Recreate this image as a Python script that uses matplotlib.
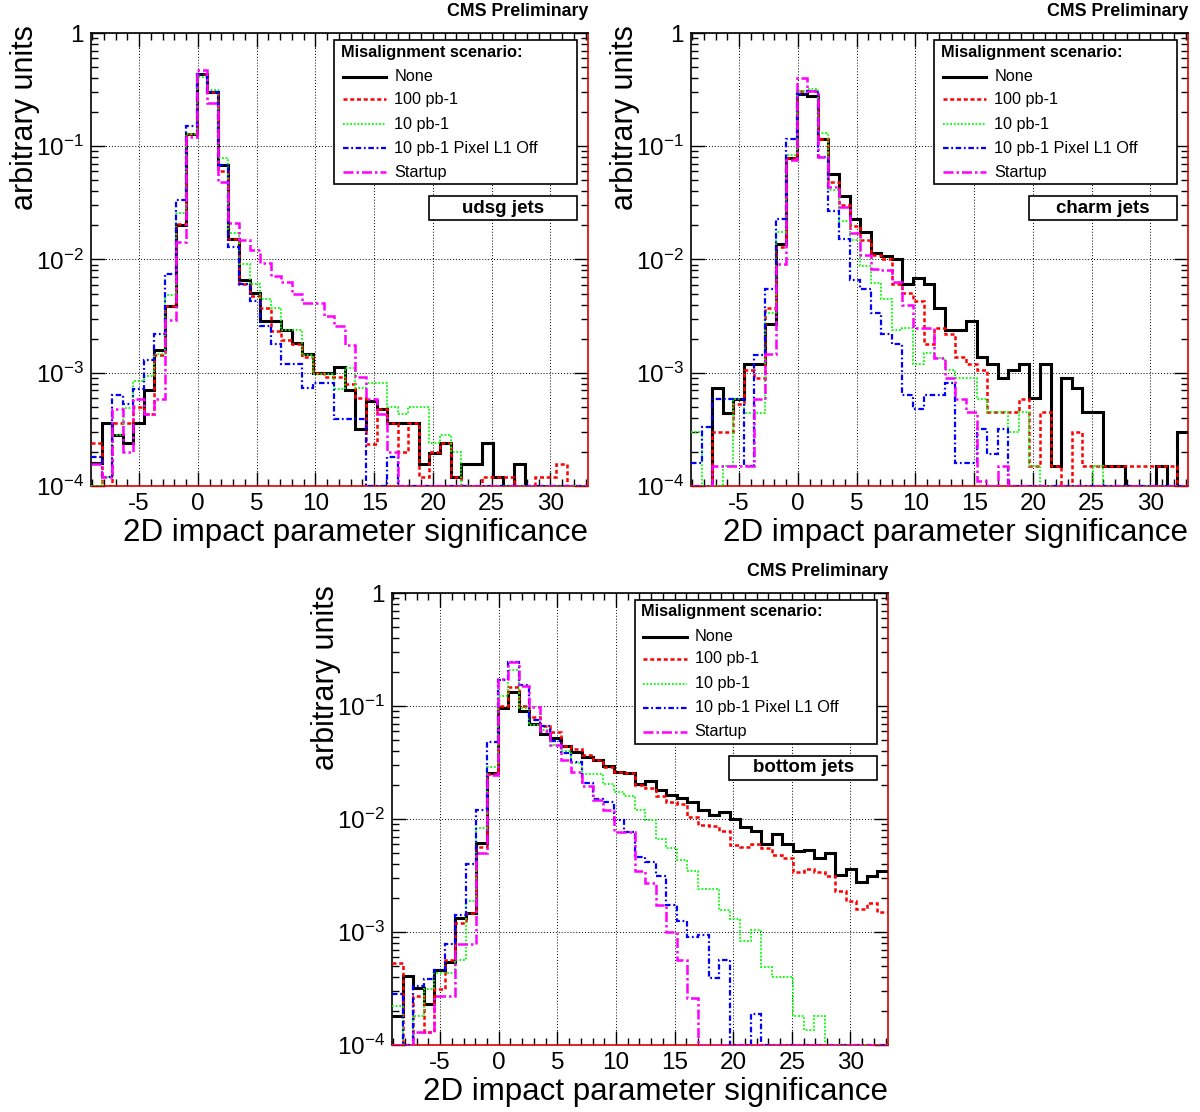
import numpy as np
import matplotlib
matplotlib.use("Agg")
import matplotlib.pyplot as plt
from matplotlib.patches import Rectangle
from matplotlib.lines import Line2D
from matplotlib.ticker import FixedLocator, MultipleLocator, NullFormatter

plt.rcParams['font.family'] = ['Liberation Sans', 'DejaVu Sans']
plt.rcParams['mathtext.fontset'] = 'custom'
plt.rcParams['mathtext.rm'] = 'Liberation Sans'
plt.rcParams['mathtext.default'] = 'regular'
plt.rcParams['axes.unicode_minus'] = False

W, H = 1200, 1112

# 47 bins of width 0.9 between -9.1 and 33.2
bin_edges = np.round(-9.1 + 0.9 * np.arange(48), 2)

scenarios = ["None", "100 pb-1", "10 pb-1", "10 pb-1 Pixel L1 Off", "Startup"]

# ---- udsg jets ----
none_udsg = [1.6e-4, 3.6e-4, 2.8e-4, 2.4e-4, 3.6e-4, 7.1e-4, 1.6e-3, 3.9e-3, 0.020, 0.129,
             0.438, 0.302, 0.069, 0.0153, 6.6e-3, 5.1e-3, 2.84e-3, 2.84e-3, 2.37e-3, 1.83e-3,
             1.45e-3, 1.0e-3, 1.0e-3, 1.12e-3, 7.1e-4, 3.2e-4, 5.6e-4, 4.8e-4, 3.6e-4, 3.6e-4,
             3.6e-4, 1.57e-4, 1.97e-4, 2.4e-4, 1.2e-4, 1.57e-4, 1.57e-4, 2.4e-4, 1.2e-4, 0,
             1.57e-4, 0, 0, 0, 0, 0, 0]
pb100_udsg = [2.4e-4, 0, 3.6e-4, 3.6e-4, 5.0e-4, 4.3e-4, 1.43e-3, 3.9e-3, 0.0205, 0.129,
              0.438, 0.302, 0.061, 0.0153, 6.1e-3, 4.8e-3, 3.76e-3, 2.36e-3, 1.93e-3, 1.8e-3,
              1.37e-3, 1.0e-3, 9.2e-4, 9.2e-4, 8.0e-4, 6.0e-4, 2.35e-4, 4.8e-4, 3.6e-4, 2.0e-4,
              3.6e-4, 1.2e-4, 2.0e-4, 2.4e-4, 1.2e-4, 0, 0, 1.2e-4, 1.2e-4, 1.2e-4,
              0, 0, 1.2e-4, 1.2e-4, 1.57e-4, 0, 0]
pb10_udsg = [0, 1.2e-4, 2.8e-4, 4.9e-4, 8.5e-4, 9.3e-4, 1.45e-3, 4.9e-3, 0.0258, 0.129,
             0.41, 0.316, 0.078, 0.0173, 9.2e-3, 6.1e-3, 4.5e-3, 3.76e-3, 2.37e-3, 2.37e-3,
             1.43e-3, 9.7e-4, 9.7e-4, 7.2e-4, 1.1e-3, 7.4e-4, 8.1e-4, 8.1e-4, 5.0e-4, 4.3e-4,
             5.0e-4, 5.0e-4, 2.4e-4, 2.8e-4, 2.0e-4, 0, 0, 0, 0, 0,
             0, 0, 0, 0, 0, 0, 0]
pixoff_udsg = [1.8e-4, 1.2e-4, 6.3e-4, 5.3e-4, 7.2e-4, 1.3e-3, 2.2e-3, 7.4e-3, 0.0334, 0.15,
               0.438, 0.302, 0.069, 0.013, 6.1e-3, 4.3e-3, 2.6e-3, 1.8e-3, 1.2e-3, 1.2e-3,
               7.4e-4, 8.2e-4, 8.2e-4, 3.9e-4, 3.9e-4, 3.9e-4, 0, 0, 1.8e-4, 0,
               0, 0, 0, 0, 0, 0, 0, 0, 0, 0,
               0, 0, 0, 0, 0, 0, 0]
startup_udsg = [1.57e-4, 1.2e-4, 4.8e-4, 2.0e-4, 5.9e-4, 4.3e-4, 5.9e-4, 2.9e-3, 0.0143, 0.12,
                0.47, 0.24, 0.048, 0.021, 0.015, 0.0122, 9.3e-3, 7.2e-3, 6.3e-3, 5.0e-3,
                4.1e-3, 4.1e-3, 3.2e-3, 2.6e-3, 1.77e-3, 9.2e-4, 5.9e-4, 4.3e-4, 2.0e-4, 0,
                0, 0, 0, 0, 0, 0, 0, 0, 0, 0,
                0, 0, 0, 0, 0, 0, 0]

# ---- charm jets ----
none_charm = [0, 0, 7.4e-4, 4.4e-4, 5.9e-4, 1.2e-3, 1.2e-3, 2.7e-3, 0.0138, 0.078,
              0.29, 0.28, 0.117, 0.0565, 0.036, 0.023, 0.0175, 0.0113, 0.0107, 0.010,
              6.1e-3, 6.8e-3, 6.1e-3, 3.76e-3, 2.4e-3, 2.4e-3, 2.84e-3, 1.37e-3, 1.2e-3, 9.0e-4,
              1.05e-3, 1.2e-3, 6.0e-4, 1.2e-3, 1.5e-4, 9.0e-4, 7.4e-4, 4.5e-4, 4.5e-4, 1.5e-4,
              1.5e-4, 0, 0, 0, 1.5e-4, 0, 3.0e-4]
pb100_charm = [0, 0, 3.0e-4, 3.0e-4, 5.3e-4, 1.05e-3, 9.0e-4, 3.7e-3, 0.0129, 0.078,
               0.31, 0.31, 0.117, 0.048, 0.0305, 0.0196, 0.015, 0.011, 0.0101, 6.1e-3,
               5.1e-3, 4.3e-3, 1.8e-3, 2.5e-3, 2.2e-3, 1.37e-3, 1.2e-3, 1.05e-3, 4.5e-4, 4.5e-4,
               4.5e-4, 5.9e-4, 1.5e-4, 4.5e-4, 1.5e-4, 0, 3.0e-4, 1.5e-4, 1.5e-4, 1.5e-4,
               1.5e-4, 1.5e-4, 1.5e-4, 1.5e-4, 1.5e-4, 1.5e-4, 0]
pb10_charm = [3.0e-4, 0, 0, 1.5e-4, 5.9e-4, 4.4e-4, 4.4e-4, 3.4e-3, 0.0175, 0.083,
              0.31, 0.32, 0.13, 0.041, 0.022, 0.015, 8.7e-3, 6.2e-3, 4.5e-3, 2.37e-3,
              2.5e-3, 1.2e-3, 1.5e-3, 1.35e-3, 1.05e-3, 9.0e-4, 9.0e-4, 5.9e-4, 4.5e-4, 4.5e-4,
              3.0e-4, 4.5e-4, 1.5e-4, 0, 0, 0, 0, 0, 1.5e-4, 0,
              0, 0, 0, 0, 0, 0, 0]
pixoff_charm = [1.6e-4, 3.3e-4, 5.9e-4, 5.9e-4, 5.9e-4, 1.5e-4, 1.43e-3, 5.5e-3, 0.023, 0.115,
                0.29, 0.31, 0.08, 0.027, 0.0153, 6.6e-3, 5.5e-3, 3.4e-3, 2.2e-3, 1.8e-3,
                6.3e-4, 4.8e-4, 6.3e-4, 6.3e-4, 8.2e-4, 1.6e-4, 1.6e-4, 3.2e-4, 1.9e-4, 3.2e-4,
                0, 0, 0, 0, 0, 0, 0, 0, 0, 0,
                0, 0, 0, 0, 0, 0, 0]
startup_charm = [0, 0, 1.5e-4, 1.5e-4, 1.5e-4, 1.5e-4, 5.9e-4, 1.45e-3, 9.2e-3, 0.075,
                 0.40, 0.31, 0.08, 0.044, 0.029, 0.017, 0.0109, 8.3e-3, 8.1e-3, 6.3e-3,
                 4.0e-3, 2.5e-3, 2.5e-3, 1.35e-3, 8.9e-4, 5.9e-4, 4.5e-4, 1.1e-4, 0, 1.5e-4,
                 0, 0, 0, 0, 0, 0, 0, 0, 0, 0,
                 0, 0, 0, 0, 0, 0, 0]

# ---- bottom jets ----
none_bottom = [1.8e-4, 4.1e-4, 3.2e-4, 2.3e-4, 4.6e-4, 5.4e-4, 1.32e-3, 1.46e-3, 6.1e-3, 0.0254,
               0.096, 0.132, 0.090, 0.0686, 0.057, 0.052, 0.0445, 0.0388, 0.0355, 0.033,
               0.0297, 0.0263, 0.0254, 0.0203, 0.0217, 0.018, 0.0163, 0.0152, 0.0142, 0.012,
               0.0108, 0.0116, 0.0101, 8.5e-3, 7.9e-3, 6.0e-3, 7.3e-3, 6.0e-3, 5.2e-3, 5.3e-3,
               4.5e-3, 5.0e-3, 3.2e-3, 3.6e-3, 2.75e-3, 3.1e-3, 3.5e-3]
pb100_bottom = [5.3e-4, 0, 2.7e-4, 1.3e-4, 3.1e-4, 5.6e-4, 1.2e-3, 1.46e-3, 5.6e-3, 0.025,
                0.10, 0.148, 0.10, 0.08, 0.066, 0.059, 0.0445, 0.042, 0.037, 0.033,
                0.029, 0.0263, 0.0254, 0.020, 0.0187, 0.0159, 0.0142, 0.0137, 0.0104, 8.9e-3,
                8.6e-3, 7.8e-3, 5.9e-3, 5.6e-3, 6.0e-3, 5.5e-3, 4.8e-3, 4.5e-3, 3.4e-3, 3.6e-3,
                3.4e-3, 3.1e-3, 2.3e-3, 1.9e-3, 1.6e-3, 1.8e-3, 1.5e-3]
pb10_bottom = [2.2e-4, 0, 1.8e-4, 3.1e-4, 4.3e-4, 4.3e-4, 5.6e-4, 1.9e-3, 8.3e-3, 0.029,
               0.122, 0.21, 0.096, 0.068, 0.061, 0.045, 0.040, 0.031, 0.025, 0.025,
               0.0205, 0.0175, 0.016, 0.012, 9.8e-3, 6.6e-3, 5.5e-3, 4.3e-3, 3.5e-3, 2.4e-3,
               2.4e-3, 1.55e-3, 1.3e-3, 8.3e-4, 1.05e-3, 4.9e-4, 4.0e-4, 4.0e-4, 1.8e-4, 1.35e-4,
               1.8e-4, 0, 0, 0, 0, 0, 0]
pixoff_bottom = [2.8e-4, 0, 3.3e-4, 3.8e-4, 4.6e-4, 7.9e-4, 1.4e-3, 4.0e-3, 0.012, 0.048,
                 0.17, 0.245, 0.153, 0.075, 0.066, 0.049, 0.038, 0.032, 0.021, 0.015,
                 0.014, 9.8e-3, 7.7e-3, 4.6e-3, 4.2e-3, 3.1e-3, 1.73e-3, 1.26e-3, 9.1e-4, 9.4e-4,
                 3.9e-4, 5.6e-4, 0, 0, 1.9e-4, 0, 0, 0, 0, 0,
                 0, 0, 0, 0, 0, 0, 0]
startup_bottom = [0, 0, 1.3e-4, 1.3e-4, 2.7e-4, 2.7e-4, 7.9e-4, 7.9e-4, 5.0e-3, 0.0245,
                  0.175, 0.245, 0.15, 0.098, 0.06, 0.045, 0.033, 0.026, 0.0194, 0.0146,
                  0.012, 7.7e-3, 7.6e-3, 3.5e-3, 2.7e-3, 1.75e-3, 1.0e-3, 5.6e-4, 2.6e-4, 0,
                  0, 0, 0, 0, 0, 0, 0, 0, 0, 0,
                  0, 0, 0, 0, 0, 0, 0]

# line styles, same order as scenarios
styles = [
    dict(color="black", lw=2.2, ls="-"),
    dict(color="#ff0000", lw=1.8, ls=(0, (1.6, 1.1))),
    dict(color="#00ff00", lw=1.3, ls=(0, (1, 1))),
    dict(color="#0000ff", lw=1.6, ls=(0, (2.5, 1.2, 0.8, 1.2))),
    dict(color="#ff00ff", lw=1.8, ls=(0, (4, 1.2, 1, 1.2))),
]

fig = plt.figure(figsize=(W / 100, H / 100), dpi=100)


def draw_panel(left, top, width, height, series, flavour):
    ax = fig.add_axes([left / W, 1 - (top + height) / H, width / W, height / H])
    for vals, st in zip(series, styles):
        v = np.array(vals, dtype=float)
        v[v <= 0] = 1e-4
        ax.stairs(v, bin_edges, baseline=None, zorder=3, **st)
    ax.set_yscale("log")
    ax.set_xlim(-9.1, 33.2)
    ax.set_ylim(1e-4, 1)

    ax.xaxis.set_major_locator(MultipleLocator(5))
    ax.xaxis.set_minor_locator(MultipleLocator(1))
    ax.yaxis.set_major_locator(FixedLocator([1e-4, 1e-3, 1e-2, 1e-1, 1]))
    ax.yaxis.set_minor_locator(FixedLocator([m * 10.0 ** e for e in range(-4, 0) for m in range(2, 10)]))
    ax.yaxis.set_minor_formatter(NullFormatter())
    ax.set_yticklabels(["$10^{-4}$", "$10^{-3}$", "$10^{-2}$", "$10^{-1}$", "1"])
    ax.tick_params(which="both", direction="in", top=True, right=True, labelsize=17.5, pad=5, width=1)
    ax.tick_params(which="major", length=10)
    ax.tick_params(which="minor", length=5)
    ax.grid(True, which="major", color="black", ls=(0, (1, 2)), lw=0.7)
    for side in ["top", "left"]:
        ax.spines[side].set_linewidth(1.2)
    for side in ["right", "bottom"]:
        ax.spines[side].set_color("#dd0000")
        ax.spines[side].set_linewidth(1.2)

    # legend box
    tr = ax.transAxes
    ax.add_patch(Rectangle((0.489, 0.667), 0.489, 0.318, transform=tr, fill=True,
                           facecolor="white", edgecolor="black", lw=1.2, zorder=5))
    ax.text(0.503, 0.958, "Misalignment scenario:", transform=tr, fontsize=11.8,
            fontweight="bold", va="center", ha="left", zorder=6)
    ys = [0.903, 0.854, 0.799, 0.746, 0.693]
    for name, st, y in zip(scenarios, styles, ys):
        ax.add_line(Line2D([0.507, 0.594], [y, y], transform=tr, zorder=6, **st))
        ax.text(0.610, y, name, transform=tr, fontsize=11.7, va="center", ha="left", zorder=6)

    # flavour label box
    ax.add_patch(Rectangle((0.680, 0.587), 0.298, 0.053, transform=tr, facecolor="white",
                           edgecolor="black", lw=1.2, zorder=5))
    ax.text(0.829, 0.6135, flavour, transform=tr, fontsize=13.5, fontweight="bold",
            ha="center", va="center", zorder=6)

    # titles in pixel positions
    right = left + width
    fig.text(right / W, 1 - (top - 21) / H, "CMS Preliminary", fontsize=12.8,
             fontweight="bold", ha="right", va="center")
    fig.text(right / W, 1 - (top + height + 47) / H, "2D impact parameter significance",
             fontsize=22.5, ha="right", va="center")
    fig.text((left - 66) / W, 1 - (top - 8) / H, "arbitrary units", fontsize=22,
             rotation=90, ha="center", va="top")
    return ax


draw_panel(91, 33, 497, 453,
           [none_udsg, pb100_udsg, pb10_udsg, pixoff_udsg, startup_udsg], "udsg jets")
draw_panel(691, 33, 497, 453,
           [none_charm, pb100_charm, pb10_charm, pixoff_charm, startup_charm], "charm jets")
draw_panel(392, 593, 496, 452,
           [none_bottom, pb100_bottom, pb10_bottom, pixoff_bottom, startup_bottom], "bottom jets")

fig.savefig("out.png", dpi=100)
